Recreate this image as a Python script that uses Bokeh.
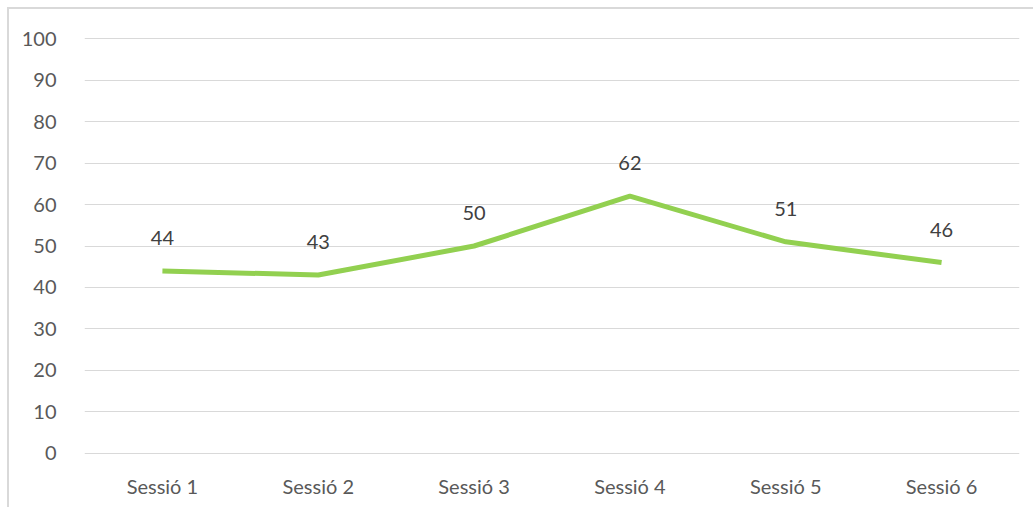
from bokeh.plotting import figure
from bokeh.models import ColumnDataSource, Range1d, SingleIntervalTicker, LabelSet
from bokeh.core.properties import value
from bokeh.embed import file_html
from bokeh.resources import INLINE

sessions = ["Sessió 1", "Sessió 2", "Sessió 3", "Sessió 4", "Sessió 5", "Sessió 6"]
values = [44, 43, 50, 62, 51, 46]
labels = [str(v) for v in values]

src = ColumnDataSource(dict(x=sessions, y=values, t=labels))

p = figure(x_range=sessions, y_range=Range1d(-0.25, 100.25), width=1026, height=500,
           output_backend="svg", toolbar_location=None,
           min_border_left=75, min_border_right=16, min_border_top=28, min_border_bottom=55)
p.x_range.range_padding = 0
p.outline_line_color = None
p.background_fill_color = "white"
p.border_fill_color = "white"
p.styles = {"margin-left": "7px", "margin-top": "7px",
            "border-left": "2px solid #d9d9d9", "border-top": "2px solid #d9d9d9"}

p.line("x", "y", source=src, line_color="#92D050", line_width=5)

lab = LabelSet(x="x", y="y", text="t", source=src, y_offset=33, text_align="center",
               text_baseline="middle", text_font=value("Lato"), text_font_size="20px",
               text_color="#404040")
p.add_layout(lab)

p.yaxis.ticker = SingleIntervalTicker(interval=10)
for ax in (p.xaxis[0], p.yaxis[0]):
    ax.axis_line_color = None
    ax.major_tick_line_color = None
    ax.minor_tick_line_color = None
    ax.major_label_text_font = "Lato"
    ax.major_label_text_font_size = "20px"
    ax.major_label_text_color = "#595959"
p.yaxis.major_label_standoff = 22
p.xaxis.major_label_standoff = 13

p.xgrid.grid_line_color = None
p.ygrid.grid_line_color = "#d9d9d9"
p.ygrid.grid_line_width = 1

open("out.html", "w").write(file_html(p, INLINE))
